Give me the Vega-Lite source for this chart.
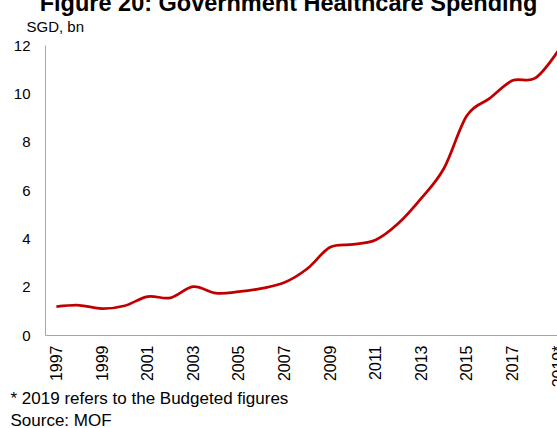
{
  "$schema": "https://vega.github.io/schema/vega-lite/v6.json",
  "width": 513,
  "height": 290,
  "autosize": {"type": "none"},
  "padding": {"left": 45, "top": 45, "right": 0, "bottom": 93},
  "background": "white",
  "title": {
    "text": "Figure 20: Government Healthcare Spending",
    "font": "Liberation Sans",
    "fontSize": 23.5,
    "fontWeight": "bold",
    "color": "#000000",
    "anchor": "middle",
    "frame": "group",
    "baseline": "alphabetic",
    "dx": -13,
    "dy": 19
  },
  "data": {
    "values": [
      {"year": 1997, "spending": 1.17},
      {"year": 1998, "spending": 1.23},
      {"year": 1999, "spending": 1.09},
      {"year": 2000, "spending": 1.21},
      {"year": 2001, "spending": 1.59},
      {"year": 2002, "spending": 1.54},
      {"year": 2003, "spending": 2.0},
      {"year": 2004, "spending": 1.73},
      {"year": 2005, "spending": 1.79},
      {"year": 2006, "spending": 1.93},
      {"year": 2007, "spending": 2.17},
      {"year": 2008, "spending": 2.74},
      {"year": 2009, "spending": 3.63},
      {"year": 2010, "spending": 3.75},
      {"year": 2011, "spending": 3.93},
      {"year": 2012, "spending": 4.62},
      {"year": 2013, "spending": 5.65},
      {"year": 2014, "spending": 6.9},
      {"year": 2015, "spending": 9.07},
      {"year": 2016, "spending": 9.79},
      {"year": 2017, "spending": 10.53},
      {"year": 2018, "spending": 10.63},
      {"year": 2019, "spending": 11.75}
    ]
  },
  "mark": {"type": "line", "interpolate": "cardinal", "color": "#C00000", "strokeWidth": 2.75, "clip": false},
  "encoding": {
    "x": {
      "field": "year",
      "type": "quantitative",
      "scale": {"domain": [1996.5, 2019.0], "nice": false, "zero": false},
      "axis": {
        "values": [1997, 1999, 2001, 2003, 2005, 2007, 2009, 2011, 2013, 2015, 2017, 2019],
        "labelExpr": "datum.value == 2019 ? '2019*' : format(datum.value, 'd')",
        "labelAngle": 270,
        "labelAlign": "right",
        "labelBaseline": "middle",
        "labelPadding": 10,
        "labelFont": "Liberation Sans",
        "labelFontSize": 16,
        "labelColor": "#000000",
        "labelOverlap": false,
        "labelBound": false,
        "labelFlush": false,
        "ticks": false,
        "grid": false,
        "domainColor": "#A6A6A6",
        "domainWidth": 1,
        "title": ["* 2019 refers to the Budgeted figures", "Source: MOF"],
        "titleFont": "Liberation Sans",
        "titleFontSize": 17,
        "titleFontWeight": "normal",
        "titleColor": "#000000",
        "titleAnchor": "start",
        "titleAlign": "left",
        "titleAngle": 0,
        "titleBaseline": "alphabetic",
        "titleX": -35,
        "titleY": 68,
        "titleLineHeight": 22.5
      }
    },
    "y": {
      "field": "spending",
      "type": "quantitative",
      "scale": {"domain": [0, 12], "nice": false},
      "axis": {
        "values": [0, 2, 4, 6, 8, 10, 12],
        "ticks": false,
        "grid": false,
        "domainColor": "#A6A6A6",
        "domainWidth": 1,
        "labelPadding": 15,
        "labelFont": "Liberation Sans",
        "labelFontSize": 15,
        "labelColor": "#000000",
        "title": "SGD, bn",
        "titleFont": "Liberation Sans",
        "titleFontSize": 15,
        "titleFontWeight": "normal",
        "titleColor": "#000000",
        "titleAngle": 0,
        "titleAlign": "left",
        "titleBaseline": "alphabetic",
        "titleX": -19,
        "titleY": -13.3
      }
    }
  },
  "config": {"view": {"stroke": null}}
}
